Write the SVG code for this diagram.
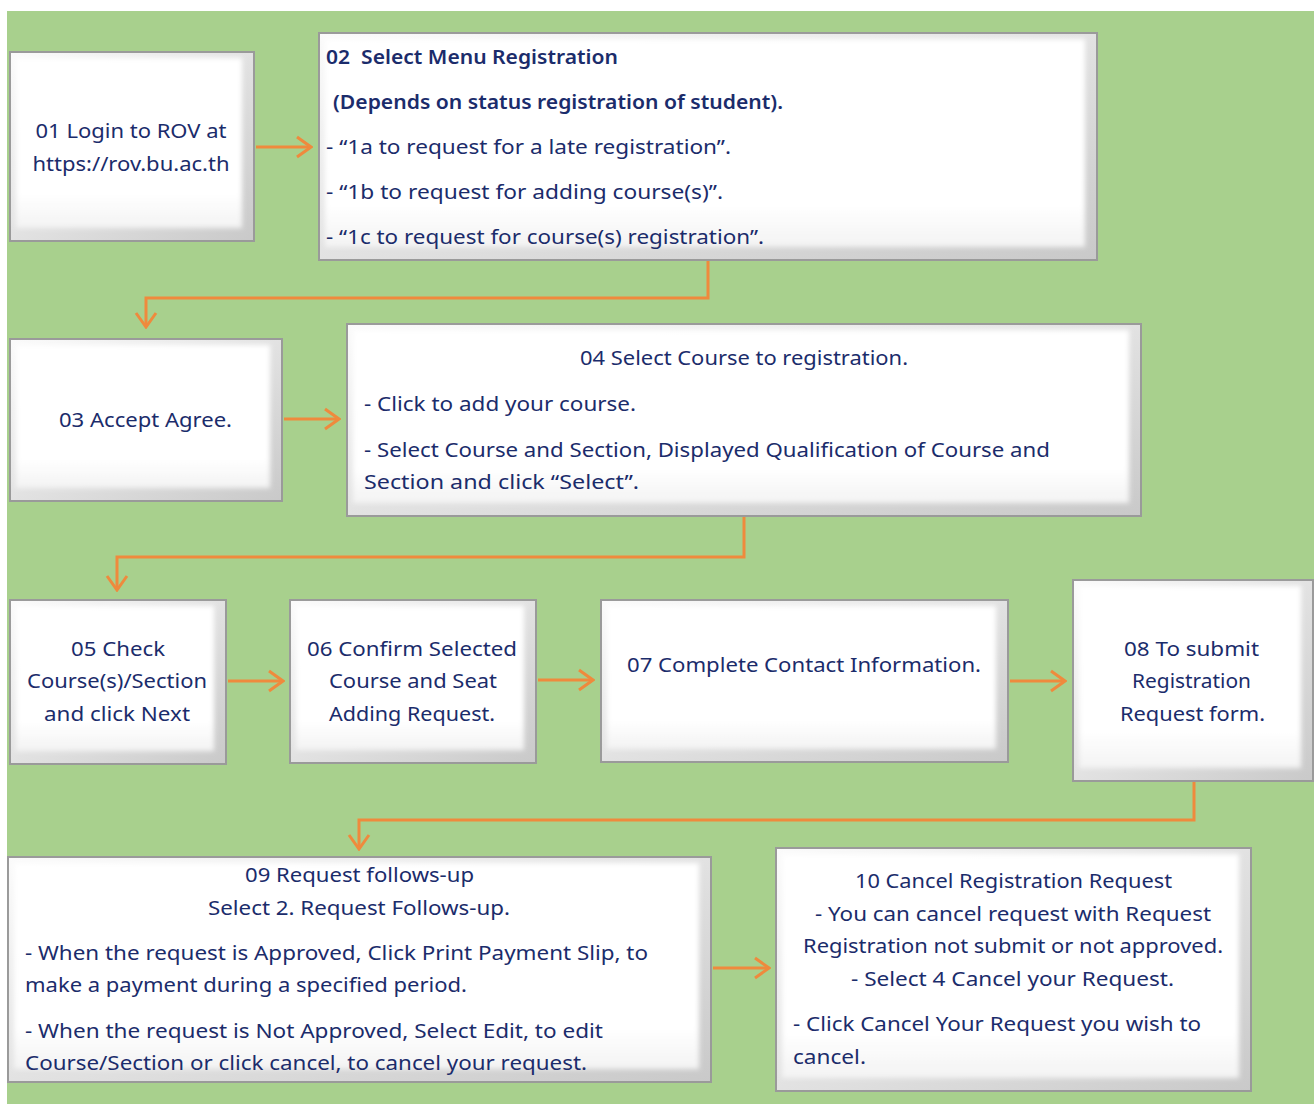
<svg xmlns="http://www.w3.org/2000/svg" width="1314" height="1104" viewBox="0 0 1314 1104">
<style>
.t{font-family:"Noto Sans","Open Sans","DejaVu Sans",sans-serif;font-size:20px;fill:#1b2c6b}
.b{font-weight:600}
.c{text-anchor:middle}
.outer{fill:url(#bev);stroke:#9a9a9a;stroke-width:2}
.inner{fill:url(#face);filter:url(#soft)}
.conn{fill:none;stroke:#ef8a3d;stroke-width:3;marker-end:url(#ah)}
</style>
<defs>
<linearGradient id="bev" x1="0" y1="0" x2="1" y2="1">
<stop offset="0" stop-color="#fbfbfb"/>
<stop offset="1" stop-color="#c9c9c9"/>
</linearGradient>
<linearGradient id="face" x1="0" y1="0" x2="0" y2="1">
<stop offset="0" stop-color="#ffffff"/>
<stop offset="0.8" stop-color="#ffffff"/>
<stop offset="1" stop-color="#f3f3f3"/>
</linearGradient>
<filter id="soft" x="-5%" y="-5%" width="110%" height="110%"><feGaussianBlur stdDeviation="2.5"/></filter>
<marker id="ah" markerUnits="userSpaceOnUse" markerWidth="18" markerHeight="24" viewBox="0 0 18 24" refX="16" refY="12" orient="auto">
<path d="M2,2 L16,12 L2,22" fill="none" stroke="#ef8a3d" stroke-width="3"/>
</marker>
</defs>
<rect x="0" y="0" width="1314" height="1104" fill="#ffffff"/>
<rect x="7" y="11" width="1307" height="1093" fill="#a8d08d"/>

<g id="connectors">
<path class="conn" d="M256,147 L311,147"/>
<path class="conn" d="M708,261 L708,298 L146,298 L146,327"/>
<path class="conn" d="M284,419 L339,419"/>
<path class="conn" d="M744,517 L744,557 L117,557 L117,590"/>
<path class="conn" d="M228,681 L283,681"/>
<path class="conn" d="M538,680 L593,680"/>
<path class="conn" d="M1010,681 L1065,681"/>
<path class="conn" d="M1194,782 L1194,820 L359,820 L359,849"/>
<path class="conn" d="M713,968 L769,968"/>
</g>

<g id="n01">
<rect class="outer" x="10" y="52" width="244" height="189"/>
<rect class="inner" x="16" y="58" width="226" height="170"/>
<text class="t c" x="131" y="138" textLength="191" lengthAdjust="spacingAndGlyphs">01 Login to ROV at</text>
<text class="t c" x="131" y="171" textLength="197" lengthAdjust="spacingAndGlyphs">https://rov.bu.ac.th</text>
</g>

<g id="n02">
<rect class="outer" x="319" y="33" width="778" height="227"/>
<rect class="inner" x="325" y="39" width="760" height="208"/>
<text class="t b" x="326" y="64" textLength="292" lengthAdjust="spacingAndGlyphs" xml:space="preserve">02  Select Menu Registration</text>
<text class="t b" x="333" y="109" textLength="450" lengthAdjust="spacingAndGlyphs">(Depends on status registration of student).</text>
<text class="t" x="326" y="154" textLength="405" lengthAdjust="spacingAndGlyphs">- “1a to request for a late registration”.</text>
<text class="t" x="326" y="199" textLength="397" lengthAdjust="spacingAndGlyphs">- “1b to request for adding course(s)”.</text>
<text class="t" x="326" y="244" textLength="438" lengthAdjust="spacingAndGlyphs">- “1c to request for course(s) registration”.</text>
</g>

<g id="n03">
<rect class="outer" x="10" y="339" width="272" height="162"/>
<rect class="inner" x="16" y="345" width="254" height="143"/>
<text class="t c" x="145.5" y="427" textLength="173" lengthAdjust="spacingAndGlyphs">03 Accept Agree.</text>
</g>

<g id="n04">
<rect class="outer" x="347" y="324" width="794" height="192"/>
<rect class="inner" x="353" y="330" width="776" height="173"/>
<text class="t c" x="744" y="365" textLength="328" lengthAdjust="spacingAndGlyphs">04 Select Course to registration.</text>
<text class="t" x="364" y="411" textLength="272" lengthAdjust="spacingAndGlyphs">- Click to add your course.</text>
<text class="t" x="364" y="457" textLength="686" lengthAdjust="spacingAndGlyphs">- Select Course and Section, Displayed Qualification of Course and</text>
<text class="t" x="364" y="489" textLength="275" lengthAdjust="spacingAndGlyphs">Section and click “Select”.</text>
</g>

<g id="n05">
<rect class="outer" x="10" y="600" width="216" height="164"/>
<rect class="inner" x="16" y="606" width="198" height="145"/>
<text class="t c" x="118" y="656" textLength="94" lengthAdjust="spacingAndGlyphs">05 Check</text>
<text class="t c" x="117" y="688" textLength="180" lengthAdjust="spacingAndGlyphs">Course(s)/Section</text>
<text class="t c" x="117" y="721" textLength="146" lengthAdjust="spacingAndGlyphs">and click Next</text>
</g>

<g id="n06">
<rect class="outer" x="290" y="600" width="246" height="163"/>
<rect class="inner" x="296" y="606" width="228" height="144"/>
<text class="t c" x="412" y="656" textLength="210" lengthAdjust="spacingAndGlyphs">06 Confirm Selected</text>
<text class="t c" x="413" y="688" textLength="168" lengthAdjust="spacingAndGlyphs">Course and Seat</text>
<text class="t c" x="412" y="721" textLength="166" lengthAdjust="spacingAndGlyphs">Adding Request.</text>
</g>

<g id="n07">
<rect class="outer" x="601" y="600" width="407" height="162"/>
<rect class="inner" x="607" y="606" width="389" height="143"/>
<text class="t c" x="804" y="672" textLength="354" lengthAdjust="spacingAndGlyphs">07 Complete Contact Information.</text>
</g>

<g id="n08">
<rect class="outer" x="1073" y="580" width="240" height="201"/>
<rect class="inner" x="1079" y="586" width="222" height="182"/>
<text class="t c" x="1191.5" y="656" textLength="135" lengthAdjust="spacingAndGlyphs">08 To submit</text>
<text class="t c" x="1191.5" y="688" textLength="119" lengthAdjust="spacingAndGlyphs">Registration</text>
<text class="t c" x="1192.5" y="721" textLength="145" lengthAdjust="spacingAndGlyphs">Request form.</text>
</g>

<g id="n09">
<rect class="outer" x="8" y="857" width="703" height="225"/>
<rect class="inner" x="14" y="863" width="685" height="206"/>
<text class="t c" x="359.5" y="882" textLength="229" lengthAdjust="spacingAndGlyphs">09 Request follows-up</text>
<text class="t c" x="359" y="915" textLength="302" lengthAdjust="spacingAndGlyphs">Select 2. Request Follows-up.</text>
<text class="t" x="25" y="960" textLength="623" lengthAdjust="spacingAndGlyphs">- When the request is Approved, Click Print Payment Slip, to</text>
<text class="t" x="25" y="992" textLength="442" lengthAdjust="spacingAndGlyphs">make a payment during a specified period.</text>
<text class="t" x="25" y="1038" textLength="578" lengthAdjust="spacingAndGlyphs">- When the request is Not Approved, Select Edit, to edit</text>
<text class="t" x="25" y="1070" textLength="562" lengthAdjust="spacingAndGlyphs">Course/Section or click cancel, to cancel your request.</text>
</g>

<g id="n10">
<rect class="outer" x="776" y="848" width="475" height="243"/>
<rect class="inner" x="782" y="854" width="457" height="224"/>
<text class="t c" x="1013.5" y="888" textLength="317" lengthAdjust="spacingAndGlyphs">10 Cancel Registration Request</text>
<text class="t c" x="1013" y="921" textLength="396" lengthAdjust="spacingAndGlyphs">- You can cancel request with Request</text>
<text class="t c" x="1013" y="953" textLength="420" lengthAdjust="spacingAndGlyphs">Registration not submit or not approved.</text>
<text class="t c" x="1012.5" y="986" textLength="323" lengthAdjust="spacingAndGlyphs">- Select 4 Cancel your Request.</text>
<text class="t" x="793" y="1031" textLength="408" lengthAdjust="spacingAndGlyphs">- Click Cancel Your Request you wish to</text>
<text class="t" x="793" y="1064" textLength="73" lengthAdjust="spacingAndGlyphs">cancel.</text>
</g>
</svg>
